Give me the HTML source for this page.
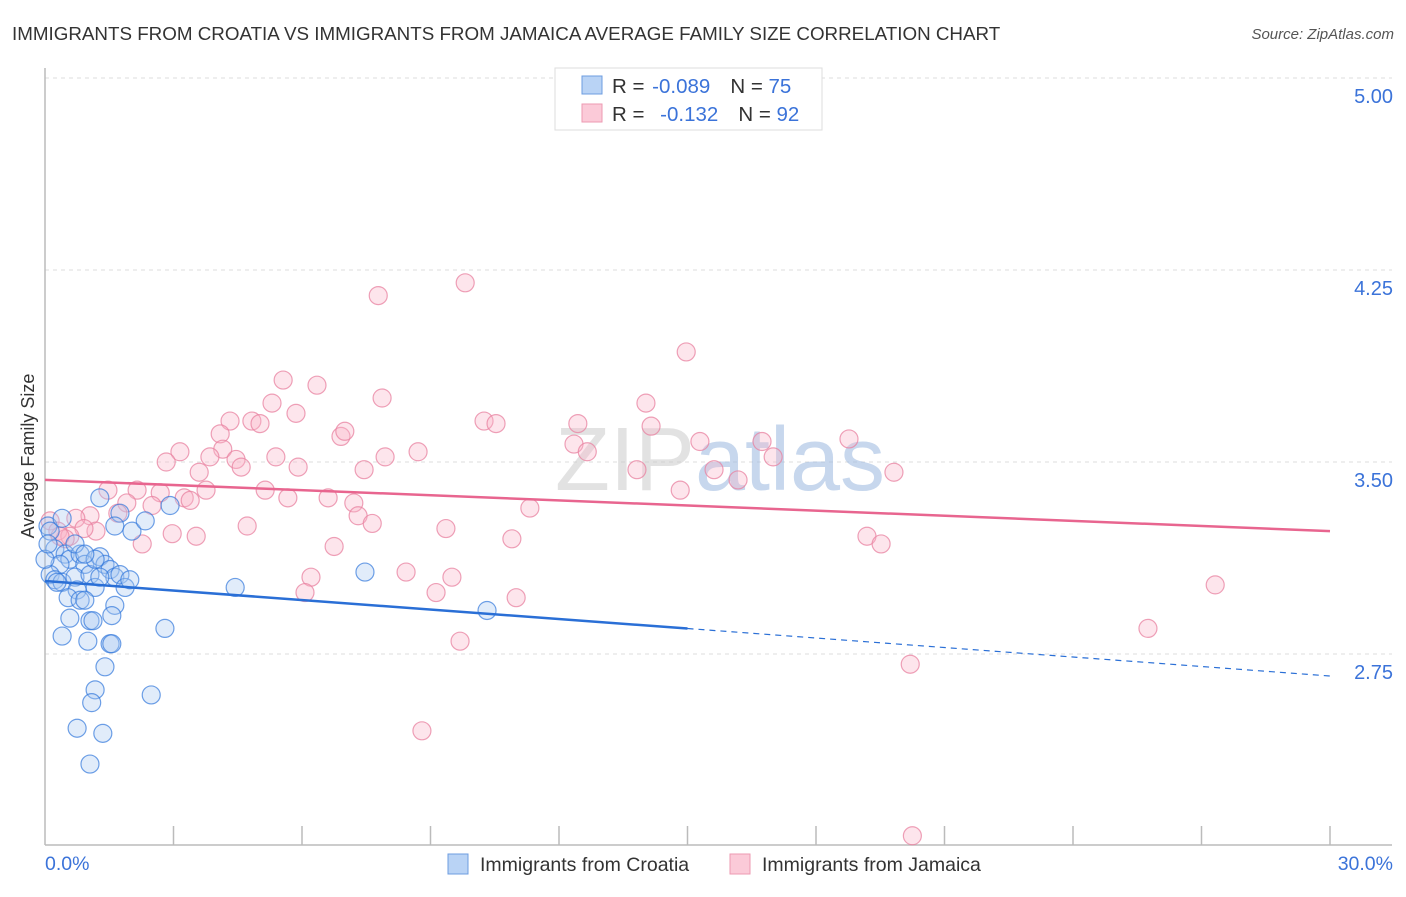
<!DOCTYPE html>
<html><head><meta charset="utf-8"><style>
body{margin:0;background:#fff;font-family:"Liberation Sans",sans-serif;}
svg text{font-family:"Liberation Sans",sans-serif;}
</style></head><body>
<svg width="1406" height="892" viewBox="0 0 1406 892">
<text x="12" y="40" font-size="18.8" fill="#333">IMMIGRANTS FROM CROATIA VS IMMIGRANTS FROM JAMAICA AVERAGE FAMILY SIZE CORRELATION CHART</text>
<text x="1394" y="39" font-size="15" fill="#555" font-style="italic" text-anchor="end">Source: ZipAtlas.com</text>
<g id="grid"></g>
<text x="720" y="490" font-size="90" fill="#ccc" opacity="0.55" text-anchor="middle" font-family="Liberation Serif">ZIP<tspan fill="#9bb8e0" font-family="Liberation Sans">atlas</tspan></text>
<line x1="45" y1="68" x2="45" y2="845" stroke="#bbb" stroke-width="1.5"/>
<line x1="45" y1="845" x2="1392" y2="845" stroke="#bbb" stroke-width="1.5"/>
<g id="ticks"></g>
<g id="ylabels"></g>
<text x="45" y="870" font-size="19.5" fill="#3b73d9">0.0%</text>
<text x="1393" y="870" font-size="19.5" fill="#3b73d9" text-anchor="end">30.0%</text>
<text transform="translate(34,456) rotate(-90)" font-size="18" fill="#333" text-anchor="middle">Average Family Size</text>
<g id="pink"></g>
<g id="blue"></g>
<g id="lines"></g>
<g>
<rect x="555" y="68" width="267" height="62" fill="#fff" stroke="#ddd"/>
<rect x="582" y="76" width="20" height="18" fill="#b9d3f5" stroke="#6d9de0"/>
<rect x="582" y="104" width="20" height="18" fill="#fbcad8" stroke="#ec9ab2"/>
<text x="612" y="93" font-size="20.5" fill="#333">R = <tspan dx="2" fill="#3b73d9">-0.089</tspan><tspan dx="20">N = </tspan><tspan fill="#3b73d9">75</tspan></text>
<text x="612" y="121" font-size="20.5" fill="#333">R = <tspan dx="10" fill="#3b73d9">-0.132</tspan><tspan dx="20">N = </tspan><tspan fill="#3b73d9">92</tspan></text>
</g>
<g>
<rect x="448" y="854" width="20" height="20" fill="#b9d3f5" stroke="#6d9de0"/>
<text x="480" y="871" font-size="19.5" fill="#333">Immigrants from Croatia</text></g>
<g>
<rect x="730" y="854" width="20" height="20" fill="#fbcad8" stroke="#ec9ab2"/>
<text x="762" y="871" font-size="19.5" fill="#333">Immigrants from Jamaica</text></g>
</svg>
<script>
const yTicks=[5.00,4.25,3.50,2.75];
const yTickLabels=["5.00","4.25","3.50","2.75"];
const croatiaX=[0.07,0.12,0.40,1.28,1.75,1.63,2.03,2.34,2.92,0.23,0.47,0.58,0.82,0.93,0.35,0.12,0.23,0.40,0.70,1.05,1.28,1.40,1.52,1.63,1.75,1.87,1.17,0.75,1.28,0.54,0.82,0.93,1.63,1.56,0.58,1.05,1.12,0.40,1.00,1.52,1.56,1.40,1.17,1.09,0.75,1.35,1.05,2.48,2.80,4.44,7.47,10.32,0,0.07,0.70,1.17,0.93,1.98,0.28];
const croatiaY=[3.25,3.23,3.28,3.36,3.30,3.25,3.23,3.27,3.33,3.16,3.14,3.12,3.14,3.10,3.10,3.06,3.04,3.03,3.05,3.06,3.13,3.10,3.08,3.05,3.06,3.01,3.01,3.00,3.05,2.97,2.96,2.96,2.94,2.90,2.89,2.88,2.88,2.82,2.80,2.79,2.79,2.70,2.61,2.56,2.46,2.44,2.32,2.59,2.85,3.01,3.07,2.92,3.12,3.18,3.18,3.12,3.14,3.04,3.03];
const jamaicaX=[9.81,7.78,14.97,5.56,6.35,7.87,5.30,5.86,14.03,4.32,4.83,5.02,10.25,10.53,12.44,14.15,6.91,7.00,4.09,12.35,15.29,16.74,18.77,12.66,3.15,4.15,3.85,4.46,5.39,7.94,8.71,17.00,2.83,3.60,4.58,5.91,7.45,13.82,15.62,19.82,16.18,14.83,2.15,2.69,3.76,5.14,1.47,3.25,3.39,5.67,6.61,7.21,1.91,2.50,11.32,1.70,1.05,0.72,7.31,7.64,4.72,9.36,0.12,0.30,1.19,0.91,0.58,0.47,2.97,3.53,2.27,6.75,10.90,19.19,19.52,0.35,6.21,8.43,9.50,6.07,9.13,11.00,27.32,25.75,9.69,20.20,8.80,20.25];
const jamaicaY=[4.20,4.15,3.93,3.82,3.80,3.75,3.73,3.69,3.73,3.66,3.66,3.65,3.66,3.65,3.65,3.64,3.60,3.62,3.61,3.57,3.58,3.58,3.59,3.54,3.54,3.55,3.52,3.51,3.52,3.52,3.54,3.52,3.50,3.46,3.48,3.48,3.47,3.47,3.47,3.46,3.43,3.39,3.39,3.38,3.39,3.39,3.39,3.36,3.35,3.36,3.36,3.34,3.34,3.33,3.32,3.30,3.29,3.28,3.29,3.26,3.25,3.24,3.27,3.23,3.23,3.24,3.21,3.20,3.22,3.21,3.18,3.17,3.20,3.21,3.18,3.21,3.05,3.07,3.05,2.99,2.99,2.97,3.02,2.85,2.80,2.71,2.45,2.04];
const croatiaTrend=[3.035,2.664];
const jamaicaTrend=[3.43,3.23];
const xTickVals=[3,6,9,12,15,18,21,24,27,30];
const NS="http://www.w3.org/2000/svg";
const X=v=>45+v/30*1285;
const Y=v=>462-(v-3.5)*256;
function mk(tag,attrs,parent){const e=document.createElementNS(NS,tag);for(const k in attrs)e.setAttribute(k,attrs[k]);parent.appendChild(e);return e;}
const grid=document.getElementById('grid'),yl=document.getElementById('ylabels'),tk=document.getElementById('ticks');
yTicks.forEach((t,i)=>{
 const l=mk('line',{x1:45,x2:1392,y1:Y(t),y2:Y(t),stroke:'#ddd','stroke-dasharray':'4,4'},grid);
 
 
 const tx=mk('text',{x:1393,y:Y(t)+25,'font-size':20,fill:'#3b73d9','text-anchor':'end'},yl);
 tx.textContent=yTickLabels[i];
 
 
});
xTickVals.forEach(v=>{
 const l=mk('line',{x1:X(v),x2:X(v),y1:826,y2:845,stroke:'#bbb','stroke-width':1.5},tk);
 
 
});
const pk=document.getElementById('pink');
jamaicaX.forEach((x,i)=>{
 const c=mk('circle',{cx:X(x),cy:Y(jamaicaY[i]),r:9,fill:'rgba(248,180,200,0.35)',stroke:'rgba(232,130,160,0.75)','stroke-width':1.2},pk);
 
 
});
const bl=document.getElementById('blue');
croatiaX.forEach((x,i)=>{
 const c=mk('circle',{cx:X(x),cy:Y(croatiaY[i]),r:9,fill:'rgba(170,200,240,0.35)',stroke:'rgba(50,120,220,0.7)','stroke-width':1.2},bl);
 
 
});
const ln=document.getElementById('lines');
const cy=x=>croatiaTrend[0]+(croatiaTrend[1]-croatiaTrend[0])*x/30;
let a=mk('line',{x1:X(0),y1:Y(cy(0)),x2:X(15),y2:Y(cy(15)),stroke:'#2a6fd6','stroke-width':2.5},ln);


a=mk('line',{x1:X(15),y1:Y(cy(15)),x2:X(30),y2:Y(cy(30)),stroke:'#2a6fd6','stroke-width':1.2,'stroke-dasharray':'6,5'},ln);


a=mk('line',{x1:X(0),y1:Y(jamaicaTrend[0]),x2:X(30),y2:Y(jamaicaTrend[1]),stroke:'#e8658f','stroke-width':2.5},ln);


</script>
</body></html>
